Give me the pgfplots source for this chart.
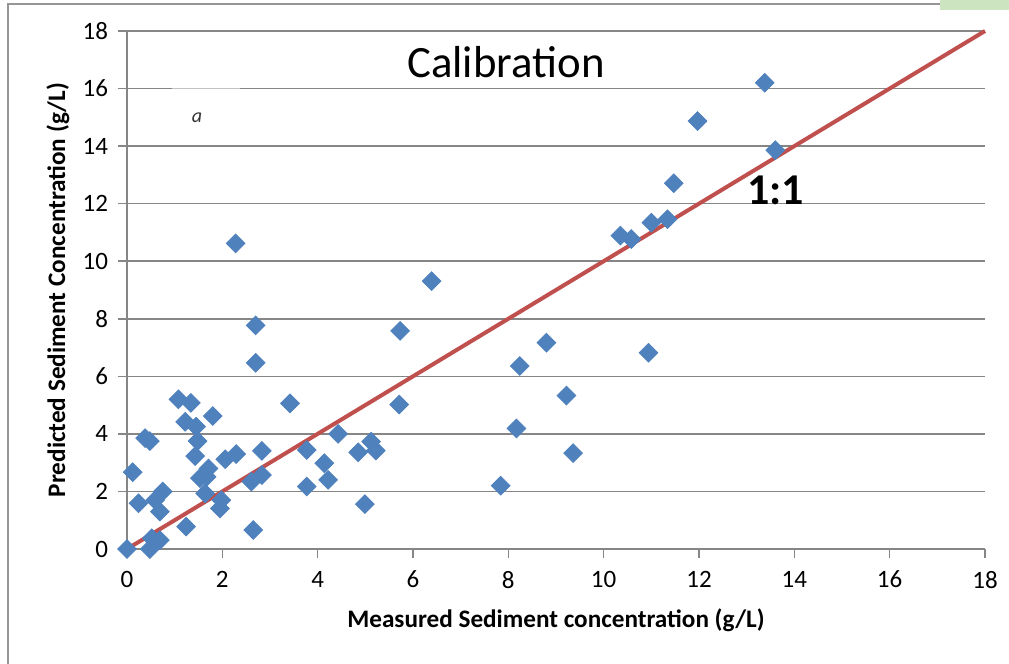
\documentclass[border=0pt]{standalone}
\usepackage{pgfplots}
\pgfplotsset{compat=1.18}
\usepackage{fontspec}
\setmainfont{Carlito}
\definecolor{mblue}{RGB}{79,129,189}
\definecolor{lred}{RGB}{192,80,77}
\definecolor{gridg}{RGB}{134,134,134}
\definecolor{frameg}{RGB}{150,150,150}
\definecolor{lgreen}{RGB}{204,228,192}
\begin{document}
\begin{tikzpicture}
\useasboundingbox (0,0) rectangle (504.5pt,332pt);
\fill[lgreen] (470pt,327pt) rectangle (504.5pt,332pt);
\draw[frameg, line width=0.8pt] (4pt,-1pt) -- (4pt,330pt) -- (470pt,330pt);
\begin{axis}[
  at={(63.5pt,57.5pt)}, anchor=south west,
  scale only axis, width=429pt, height=259pt,
  xmin=0, xmax=18, ymin=0, ymax=18,
  xtick={0,2,...,18}, ytick={0,2,...,18},
  axis lines=left, axis line style={-, gridg, line width=0.8pt},
  ymajorgrids, grid style={gridg, line width=0.8pt},
  tick align=outside, major tick length=4.5pt,
  tick style={gridg, line width=0.8pt},
  /pgf/number format/assume math mode=true,
  ticklabel style={font=\fontsize{12.5}{14}\selectfont},
  xticklabel style={yshift=-3pt},
  yticklabel style={xshift=-1.5pt},
  clip=false,
  xlabel={\bfseries Measured Sediment concentration (g/L)},
  ylabel={\bfseries Predicted Sediment Concentration (g/L)},
  label style={font=\fontsize{12.6}{14}\selectfont\bfseries},
  xlabel style={at={(axis description cs:0.5,0)}, anchor=center, yshift=-35.5pt},
  ylabel style={at={(axis description cs:0,0.5)}, anchor=center, yshift=34.5pt},
]
\draw[white, line width=1.2pt] (axis cs:0.95,16) -- (axis cs:2.37,16);
\draw[gridg!50, line width=0.4pt] (axis cs:0.95,16) -- (axis cs:2.37,16);
\addplot[only marks, mark=square*, mark size=3.3pt, mark options={rotate=45, fill=mblue, draw=mblue}] coordinates {
(0,0) (0.12,2.67) (0.24,1.59) (0.38,3.85) (0.48,3.75) (0.48,0.0) (0.52,0.37)
(0.69,0.31) (0.59,1.7) (0.75,2.0) (0.69,1.3) (1.08,5.2) (1.34,5.08) (1.22,4.42)
(1.45,4.25) (1.48,3.75) (1.43,3.23) (1.8,4.62) (1.24,0.78) (1.53,2.46) (1.71,2.80)
(1.67,2.51) (1.64,1.93) (1.98,1.70) (1.95,1.41) (2.06,3.12) (2.29,3.30) (2.83,3.41)
(2.83,2.57) (2.61,2.34) (2.65,0.66) (3.42,5.06) (3.77,3.44) (3.77,2.17)
(2.28,10.62) (6.39,9.31) (2.70,7.77) (5.73,7.58) (2.70,6.47) (5.71,5.02) (4.43,4.0)
(5.12,3.73) (4.85,3.36) (5.22,3.42) (4.14,2.98) (4.22,2.40) (4.99,1.56)
(8.80,7.17) (8.24,6.36) (9.22,5.33) (8.17,4.19) (9.36,3.33) (7.84,2.2)
(13.38,16.2) (11.97,14.87) (13.60,13.86) (11.47,12.71) (10.35,10.89) (10.58,10.77)
(11.0,11.34) (11.34,11.46) (10.94,6.82)
};
\addplot[lred, line width=2pt, no marks] coordinates {(0,0) (18,18)};
\node[font=\fontsize{22.4}{26}\selectfont] at (axis cs:7.95,16.92) {Calibration};
\node[font=\fontsize{22}{26}\selectfont\bfseries] at (axis cs:13.61,12.47) {1:1};
\node[font=\fontsize{10}{11}\selectfont\itshape, text=black!80] at (axis cs:1.47,14.98) {a};
\end{axis}
\end{tikzpicture}
\end{document}
